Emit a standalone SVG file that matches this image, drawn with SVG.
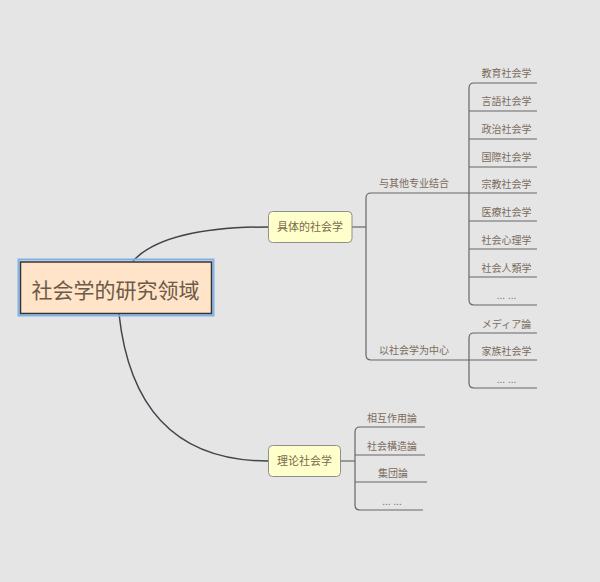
<svg xmlns="http://www.w3.org/2000/svg" width="600" height="582" viewBox="0 0 600 582">
<style>
text{font-family:"Liberation Sans","Noto Sans CJK SC",sans-serif;text-anchor:middle}
.it{font-size:10px;fill:#7a6b5c}
.nd rect{fill:#ffffcc;stroke:#8f8f8f;stroke-width:1}
.nd text{font-size:11px;fill:#7a6a4a}
.br{fill:none;stroke:#666;stroke-width:1.2}
.cv{fill:none;stroke:#3f454c;stroke-width:1.5}
</style>
<rect width="600" height="582" fill="#e5e5e5"/>
<g id="connectors">
<path class="cv" d="M133,261 Q165,227 268,227"/>
<path class="cv" d="M119,314 Q135,461 268,461"/>
<path class="br" d="M352,227 H366"/>
<path class="br" d="M469,193 H371 Q366,193 366,198 V355 Q366,360 371,360 H469"/>
<path class="br" d="M537,83 H474 Q469,83 469,88 V300 Q469,305 474,305 H537"/>
<path class="br" d="M469,111 H537 M469,139 H537 M469,167 H537 M469,193 H537 M469,221 H537 M469,249 H537 M469,277 H537"/>
<path class="br" d="M537,333 H474 Q469,333 469,338 V383 Q469,388 474,388 H537 M469,360 H537"/>
<path class="br" d="M341,461 H355"/>
<path class="br" d="M425,427 H360 Q355,427 355,432 V505 Q355,510 360,510 H423 M355,455 H425 M355,482 H427"/>
</g>
<g id="root">
<rect x="18.5" y="259.5" width="195" height="56" fill="none" stroke="#7fb2ec" stroke-width="2"/>
<rect x="20.5" y="262" width="191" height="51.5" fill="#ffe4c9" stroke="#333" stroke-width="1.5"/>
<text x="115.5" y="298" style="font-size:21px;fill:#6e5a48">社会学的研究领域</text>
</g>
<g id="n-concrete" class="nd">
<rect x="268.5" y="211.5" width="83.5" height="31" rx="4"/>
<text x="310" y="231">具体的社会学</text>
</g>
<g id="n-theory" class="nd">
<rect x="268.5" y="445.5" width="72" height="31" rx="4"/>
<text x="304.5" y="465">理论社会学</text>
</g>
<g id="sub-combine"><text class="it" x="414" y="187">与其他专业结合</text></g>
<g id="sub-center"><text class="it" x="414" y="354">以社会学为中心</text></g>
<g id="items1">
<text class="it" x="506.5" y="77">教育社会学</text>
<text class="it" x="506.5" y="105">言語社会学</text>
<text class="it" x="506.5" y="133">政治社会学</text>
<text class="it" x="506.5" y="161">国際社会学</text>
<text class="it" x="506.5" y="188">宗教社会学</text>
<text class="it" x="506.5" y="215.5">医療社会学</text>
<text class="it" x="506.5" y="243.5">社会心理学</text>
<text class="it" x="506.5" y="271.5">社会人類学</text>
<text class="it" x="506.5" y="299">... ...</text>
</g>
<g id="items2">
<text class="it" x="506.5" y="327.5">メディア論</text>
<text class="it" x="506.5" y="355">家族社会学</text>
<text class="it" x="506.5" y="383">... ...</text>
</g>
<g id="items3">
<text class="it" x="392" y="421.5">相互作用論</text>
<text class="it" x="392" y="449.5">社会構造論</text>
<text class="it" x="393" y="476.5">集団論</text>
<text class="it" x="392" y="504.5">... ...</text>
</g>
</svg>
